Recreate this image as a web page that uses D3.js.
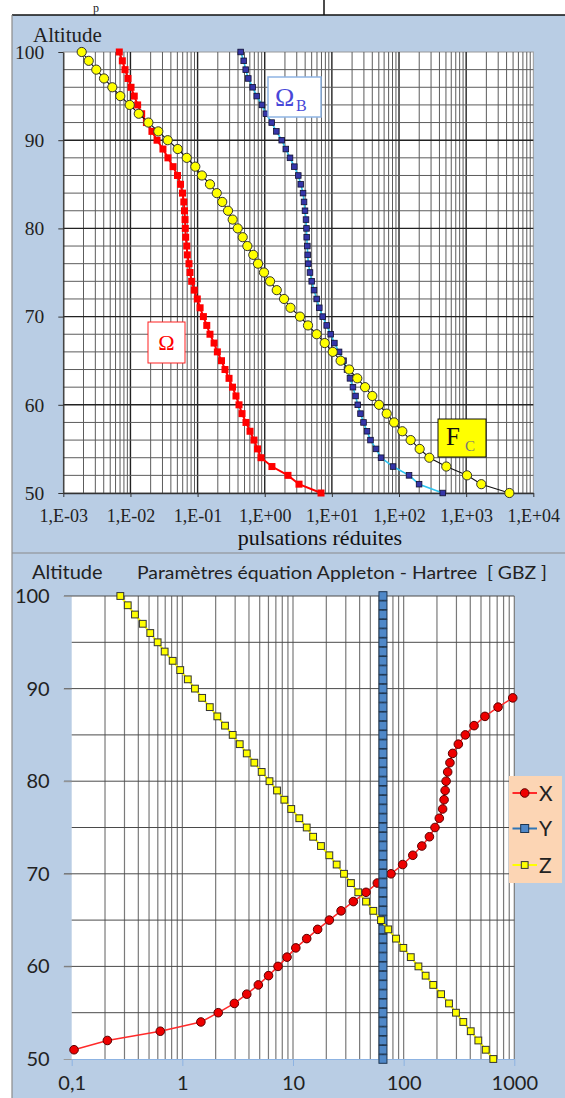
<!DOCTYPE html>
<html>
<head>
<meta charset="utf-8">
<script src="https://cdn.jsdelivr.net/npm/d3@7"></script>
<style>
  body { margin: 0; background: #fff; }
  svg { display: block; }
  text { white-space: pre; }
</style>
</head>
<body>
<svg id="chart" width="565" height="1098"></svg>
<script>
// ---------- data: upper chart (reduced pulsations vs altitude) ----------
const altitudes = [100, 99, 98, 97, 96, 95, 94, 93, 92, 91,
                   90, 89, 88, 87, 86, 85, 84, 83, 82, 81,
                   80, 79, 78, 77, 76, 75, 74, 73, 72, 71,
                   70, 69, 68, 67, 66, 65, 64, 63, 62, 61,
                   60, 59, 58, 57, 56, 55, 54, 53, 52, 51, 50];

const omega = [6.82e-3, 7.57e-3, 8.30e-3, 9.20e-3, 1.02e-2, 1.14e-2, 1.28e-2, 1.47e-2, 1.73e-2, 2.09e-2,
               2.49e-2, 3.05e-2, 3.62e-2, 4.31e-2, 5.02e-2, 5.57e-2, 5.96e-2, 6.24e-2, 6.38e-2, 6.50e-2,
               6.56e-2, 6.65e-2, 6.89e-2, 7.03e-2, 7.45e-2, 7.71e-2, 8.17e-2, 8.93e-2, 9.90e-2, 0.109,
               0.122, 0.137, 0.153, 0.176, 0.197, 0.227, 0.256, 0.294, 0.331, 0.373,
               0.414, 0.459, 0.526, 0.604, 0.692, 0.780, 0.881, 1.28, 2.22, 3.24, 6.89];

const omegaB = [0.438, 0.486, 0.521, 0.569, 0.662, 0.760, 0.910, 1.04, 1.27, 1.49,
                1.79, 2.06, 2.38, 2.76, 3.16, 3.44, 3.72, 3.85, 3.98, 4.12,
                4.19, 4.22, 4.31, 4.37, 4.46, 4.72, 5.01, 5.42, 5.94, 6.50,
                7.30, 8.37, 9.61, 10.9, 12.8, 14.9, 16.8, 18.6, 20.6, 22.5,
                24.3, 26.7, 29.6, 33.4, 37.6, 45.4, 54.0, 81.5, 141, 199, 448];

const fc = [1.88e-3, 2.39e-3, 3.10e-3, 4.04e-3, 5.37e-3, 7.06e-3, 9.75e-3, 1.33e-2, 1.85e-2, 2.60e-2,
            3.59e-2, 5.06e-2, 6.89e-2, 9.25e-2, 0.116, 0.153, 0.193, 0.233, 0.284, 0.333,
            0.396, 0.470, 0.551, 0.676, 0.794, 0.975, 1.20, 1.51, 1.94, 2.42,
            3.35, 4.41, 5.94, 7.82, 10.3, 13.5, 18.1, 23.9, 31.2, 40.0,
            50.4, 65.6, 84.3, 112, 149, 203, 283, 506, 1030, 1680, 4400];

const topTickValues = [1e-3, 1e-2, 1e-1, 1e0, 1e1, 1e2, 1e3, 1e4];
const topTickLabels = ["1,E-03", "1,E-02", "1,E-01", "1,E+00", "1,E+01", "1,E+02", "1,E+03", "1,E+04"];
const altTicks = [50, 60, 70, 80, 90, 100];

// ---------- data: lower chart (Appleton - Hartree parameters) ----------
const altitudesX = [89, 88, 87, 86, 85, 84, 83, 82, 81, 80,
                    79, 78, 77, 76, 75, 74, 73, 72, 71, 70,
                    69, 68, 67, 66, 65, 64, 63, 62, 61, 60,
                    59, 58, 57, 56, 55, 54, 53, 52, 51];
const paramX = [968, 713, 543, 433, 361, 312, 277, 262, 250, 242,
                237, 232, 225, 210, 192, 171, 146, 121, 98.0, 76.9,
                57.8, 45.7, 35.1, 27.2, 21.3, 16.7, 13.3, 10.6, 8.83, 7.32,
                6.01, 4.86, 3.82, 2.95, 2.11, 1.47, 0.632, 0.210, 0.105];
const paramY = [65, 65, 65, 65, 65, 65, 65, 65, 65, 65,
                65, 65, 65, 65, 65, 65, 65, 65, 65, 65,
                65, 65, 65, 65, 65, 65, 65, 65, 65, 65,
                65, 65, 65, 65, 65, 65, 65, 65, 65, 65,
                65, 65, 65, 65, 65, 65, 65, 65, 65, 65, 65];
const paramZ = [0.275, 0.321, 0.373, 0.439, 0.513, 0.598, 0.692, 0.818, 0.957, 1.12,
                1.30, 1.51, 1.77, 2.07, 2.43, 2.85, 3.30, 3.82, 4.47, 5.21,
                6.13, 7.17, 8.35, 9.64, 11.4, 13.3, 15.2, 17.9, 21.3, 24.8,
                28.9, 33.4, 38.9, 45.7, 53.2, 62.4, 72.6, 85.3, 99.3, 116,
                136, 158, 185, 218, 257, 297, 346, 404, 473, 552, 646];

const bottomTickValues = [0.1, 1, 10, 100, 1000];
const bottomTickLabels = ["0,1", "1", "10", "100", "1000"];
const legendNames = ["X", "Y", "Z"];

// ---------- drawing ----------
const BG = "#b9cde4";
const SERIF = "'Liberation Serif', 'Times New Roman', serif";
const SANS = "Lato, 'Open Sans', sans-serif";
const svg = d3.select("#chart");

// panel backgrounds and frame
svg.append("rect").attr("x", 12).attr("y", 15).attr("width", 553).attr("height", 1083).attr("fill", BG);
svg.append("line").attr("x1", 12).attr("x2", 565).attr("y1", 15).attr("y2", 15).attr("stroke", "#111").attr("stroke-width", 1.5);
svg.append("line").attr("x1", 324).attr("x2", 324).attr("y1", 0).attr("y2", 15).attr("stroke", "#111").attr("stroke-width", 1.5);
svg.append("line").attr("x1", 12).attr("x2", 12).attr("y1", 15).attr("y2", 1098).attr("stroke", "#8a8a8a").attr("stroke-width", 1.2);
svg.append("line").attr("x1", 12).attr("x2", 565).attr("y1", 553).attr("y2", 553).attr("stroke", "#8a8a8a").attr("stroke-width", 1.2);

// small subscript in the strip above the upper panel
svg.append("text").attr("x", 93).attr("y", 11.5).attr("font-family", SERIF).attr("font-size", 12).attr("fill", "#222").text("p");

// ================= upper chart =================
const tX0 = 63.3, tX1 = 533.3, tY0 = 52, tY1 = 493;
const xTop = d3.scaleLog().domain([1e-3, 1e4]).range([tX0, tX1]);
const yTop = d3.scaleLinear().domain([50, 100]).range([tY1, tY0]);
const gt = svg.append("g");

gt.append("rect").attr("x", tX0).attr("y", tY0).attr("width", tX1 - tX0).attr("height", tY1 - tY0)
  .attr("fill", "#fff").attr("stroke", "#9a9a9a").attr("stroke-width", 1);

// log grid: minor lines (2..9 in each decade)
const topMinor = [];
for (let e = -3; e < 4; e++) for (let k = 2; k <= 9; k++) topMinor.push(k * Math.pow(10, e));
gt.append("g").selectAll("line").data(topMinor).join("line")
  .attr("x1", d => xTop(d)).attr("x2", d => xTop(d)).attr("y1", tY0).attr("y2", tY1)
  .attr("stroke", "#5c5c5c").attr("stroke-width", 1);
gt.append("g").selectAll("line").data(topTickValues.slice(1, -1)).join("line")
  .attr("x1", d => xTop(d)).attr("x2", d => xTop(d)).attr("y1", tY0).attr("y2", tY1)
  .attr("stroke", "#222").attr("stroke-width", 1.4);

// altitude grid every 2 km, darker every 10 km
const topH = d3.range(52, 100, 2);
gt.append("g").selectAll("line").data(topH).join("line")
  .attr("x1", tX0).attr("x2", tX1).attr("y1", d => yTop(d)).attr("y2", d => yTop(d))
  .attr("stroke", d => d % 10 === 0 ? "#222" : "#5c5c5c")
  .attr("stroke-width", d => d % 10 === 0 ? 1.4 : 1);

// axes
const axTB = gt.append("g").attr("transform", `translate(0,${tY1})`)
  .call(d3.axisBottom(xTop).tickValues(topTickValues).tickFormat((d, i) => topTickLabels[i])
    .tickSize(4).tickSizeOuter(0).tickPadding(12));
axTB.select(".domain").attr("stroke", "#333").attr("stroke-width", 1.3);
axTB.selectAll(".tick line").attr("stroke", "#333");
axTB.selectAll("text").attr("font-family", SERIF).attr("font-size", 18).attr("fill", "#222");

const axTL = gt.append("g").attr("transform", `translate(${tX0},0)`)
  .call(d3.axisLeft(yTop).tickValues(altTicks).tickSize(5).tickSizeOuter(0).tickPadding(14));
axTL.select(".domain").attr("stroke", "#333").attr("stroke-width", 1.3);
axTL.selectAll(".tick line").attr("stroke", "#333");
axTL.selectAll("text").attr("font-family", SERIF).attr("font-size", 19.5).attr("fill", "#222");

gt.append("text").attr("x", 33).attr("y", 42).attr("font-family", SERIF).attr("font-size", 21).attr("fill", "#222").text("Altitude");
gt.append("text").attr("x", 320).attr("y", 545).attr("text-anchor", "middle").attr("font-family", SERIF)
  .attr("font-size", 22).attr("fill", "#111").text("pulsations réduites");

const lineTop = vals => d3.line().x((d, i) => xTop(vals[i])).y(d => yTop(d))(altitudes);

// Omega (red squares)
gt.append("path").attr("d", lineTop(omega)).attr("fill", "none").attr("stroke", "#ff0000").attr("stroke-width", 2);
gt.append("g").selectAll("rect").data(altitudes).join("rect")
  .attr("x", (d, i) => xTop(omega[i]) - 3.5).attr("y", d => yTop(d) - 3.5)
  .attr("width", 7).attr("height", 7).attr("fill", "#ff0000");

// Omega_B (navy squares on a cyan line)
gt.append("path").attr("d", lineTop(omegaB)).attr("fill", "none").attr("stroke", "#2ec4f0").attr("stroke-width", 1.6);
gt.append("g").selectAll("rect").data(altitudes).join("rect")
  .attr("x", (d, i) => xTop(omegaB[i]) - 2.8).attr("y", d => yTop(d) - 2.8)
  .attr("width", 5.6).attr("height", 5.6).attr("fill", "#3535a8").attr("stroke", "#101030").attr("stroke-width", 0.8);

// F_C (yellow circles on a black line)
gt.append("path").attr("d", lineTop(fc)).attr("fill", "none").attr("stroke", "#111").attr("stroke-width", 1.1);
gt.append("g").selectAll("circle").data(altitudes).join("circle")
  .attr("cx", (d, i) => xTop(fc[i])).attr("cy", d => yTop(d)).attr("r", 4.6)
  .attr("fill", "#ffff00").attr("stroke", "#333").attr("stroke-width", 1);

// series labels
const lb = gt.append("g");
lb.append("rect").attr("x", 268).attr("y", 77).attr("width", 53).attr("height", 40)
  .attr("fill", "#fff").attr("stroke", "#8eb4e3").attr("stroke-width", 1.5);
lb.append("text").attr("x", 275).attr("y", 106).attr("font-family", SERIF).attr("font-size", 26).attr("fill", "#4848d8").text("Ω");
lb.append("text").attr("x", 296).attr("y", 111).attr("font-family", SERIF).attr("font-size", 16).attr("fill", "#4848d8").text("B");

lb.append("rect").attr("x", 148).attr("y", 322).attr("width", 37).attr("height", 41)
  .attr("fill", "#fff").attr("stroke", "#ff2020").attr("stroke-width", 1);
lb.append("text").attr("x", 166.5).attr("y", 350).attr("text-anchor", "middle").attr("font-family", SERIF)
  .attr("font-size", 22).attr("fill", "#ff0000").text("Ω");

lb.append("rect").attr("x", 438).attr("y", 419).attr("width", 48).attr("height", 38)
  .attr("fill", "#ffff00").attr("stroke", "#111").attr("stroke-width", 1);
lb.append("text").attr("x", 446).attr("y", 445).attr("font-family", SERIF).attr("font-size", 25).attr("fill", "#111").text("F");
lb.append("text").attr("x", 465).attr("y", 451).attr("font-family", SERIF).attr("font-size", 15).attr("fill", "#777").text("C");

// ================= lower chart =================
const bX0 = 71.7, bX1 = 514.3, bY0 = 596, bY1 = 1059;
const xBot = d3.scaleLog().domain([0.1, 1000]).range([bX0, bX1]);
const yBot = d3.scaleLinear().domain([50, 100]).range([bY1, bY0]);
const gb = svg.append("g");

gb.append("rect").attr("x", bX0).attr("y", bY0).attr("width", bX1 - bX0).attr("height", bY1 - bY0).attr("fill", "#fff");

const botMinor = [];
for (let e = -1; e < 3; e++) for (let k = 2; k <= 9; k++) botMinor.push(k * Math.pow(10, e));
gb.append("g").selectAll("line").data(botMinor.concat([1, 10, 100, 1000])).join("line")
  .attr("x1", d => xBot(d)).attr("x2", d => xBot(d)).attr("y1", bY0).attr("y2", bY1)
  .attr("stroke", "#7a7a7a").attr("stroke-width", 1.2);

const botH = d3.range(55, 101, 5);
gb.append("g").selectAll("line").data(botH).join("line")
  .attr("x1", d => d % 10 === 0 ? 64 : bX0).attr("x2", bX1).attr("y1", d => yBot(d)).attr("y2", d => yBot(d))
  .attr("stroke", "#4a4a4a").attr("stroke-width", 1);

const axBB = gb.append("g").attr("transform", `translate(0,${bY1})`)
  .call(d3.axisBottom(xBot).tickValues(bottomTickValues).tickFormat((d, i) => bottomTickLabels[i])
    .tickSize(7).tickSizeOuter(0).tickPadding(10));
axBB.select(".domain").attr("stroke", "#8db3e2").attr("stroke-width", 1.2);
axBB.selectAll(".tick line").attr("stroke", "#8db3e2");
axBB.selectAll("text").attr("font-family", SANS).attr("font-size", 20).attr("fill", "#222");

const axBL = gb.append("g").attr("transform", `translate(${bX0},0)`)
  .call(d3.axisLeft(yBot).tickValues(altTicks).tickSize(8).tickSizeOuter(0).tickPadding(14));
axBL.select(".domain").remove();
axBL.selectAll(".tick line").attr("stroke", "#9a9a9a");
axBL.selectAll("text").attr("font-family", SANS).attr("font-size", 20).attr("fill", "#222");

gb.append("text").attr("x", 32).attr("y", 579).attr("font-family", SANS).attr("font-size", 20).attr("fill", "#222").text("Altitude");
gb.append("text").attr("x", 137).attr("y", 579).attr("font-family", SANS).attr("font-size", 17)
  .attr("textLength", 410).attr("lengthAdjust", "spacingAndGlyphs").attr("fill", "#222")
  .text("Paramètres équation Appleton - Hartree  [ GBZ ]");

const lineBot = (alts, vals) => d3.line().x((d, i) => xBot(vals[i])).y(d => yBot(d))(alts);

// X (red circles)
gb.append("path").attr("d", lineBot(altitudesX, paramX)).attr("fill", "none").attr("stroke", "#ff2a2a").attr("stroke-width", 1.5);
gb.append("g").selectAll("circle").data(altitudesX).join("circle")
  .attr("cx", (d, i) => xBot(paramX[i])).attr("cy", d => yBot(d)).attr("r", 4.3)
  .attr("fill", "#ee0000").attr("stroke", "#5a0000").attr("stroke-width", 1);

// Y (blue squares)
gb.append("path").attr("d", lineBot(altitudes, paramY)).attr("fill", "none").attr("stroke", "#2e75b6").attr("stroke-width", 2);
gb.append("g").selectAll("rect").data(altitudes).join("rect")
  .attr("x", (d, i) => xBot(paramY[i]) - 4).attr("y", d => yBot(d) - 4.3)
  .attr("width", 8).attr("height", 8.6).attr("fill", "#4f88c8").attr("stroke", "#1d3550").attr("stroke-width", 1);

// Z (yellow squares)
gb.append("path").attr("d", lineBot(altitudes, paramZ)).attr("fill", "none").attr("stroke", "#ffff00").attr("stroke-width", 2);
gb.append("g").selectAll("rect").data(altitudes).join("rect")
  .attr("x", (d, i) => xBot(paramZ[i]) - 3.4).attr("y", d => yBot(d) - 3.4)
  .attr("width", 6.8).attr("height", 6.8).attr("fill", "#ffff00").attr("stroke", "#333").attr("stroke-width", 1);

// legend
const lg = gb.append("g");
lg.append("rect").attr("x", 509).attr("y", 776).attr("width", 53).attr("height", 107).attr("fill", "#fcd5b4");
const legendY = [793, 828.5, 865];
const legendLine = ["#ff2a2a", "#2e75b6", "#ffff00"];
legendNames.forEach((name, i) => {
  const y = legendY[i];
  lg.append("line").attr("x1", 512.5).attr("x2", 537).attr("y1", y).attr("y2", y)
    .attr("stroke", legendLine[i]).attr("stroke-width", 2);
  if (i === 0) {
    lg.append("circle").attr("cx", 524.7).attr("cy", y).attr("r", 4.3)
      .attr("fill", "#ee0000").attr("stroke", "#5a0000").attr("stroke-width", 1);
  } else if (i === 1) {
    lg.append("rect").attr("x", 520.7).attr("y", y - 4).attr("width", 8).attr("height", 8)
      .attr("fill", "#4f88c8").attr("stroke", "#1d3550").attr("stroke-width", 1);
  } else {
    lg.append("rect").attr("x", 521.3).attr("y", y - 3.4).attr("width", 6.8).attr("height", 6.8)
      .attr("fill", "#ffff00").attr("stroke", "#333").attr("stroke-width", 1);
  }
  lg.append("text").attr("x", 539).attr("y", y + 7.5).attr("font-family", SANS).attr("font-size", 21)
    .attr("fill", "#222").text(name);
});
</script>
</body>
</html>
